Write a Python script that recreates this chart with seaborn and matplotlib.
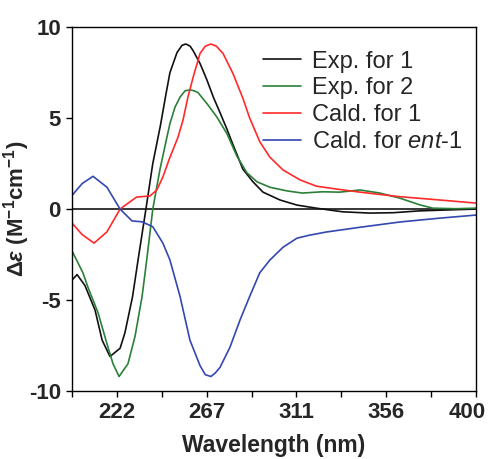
import numpy as np
import pandas as pd
import seaborn as sns
import matplotlib
matplotlib.use('Agg')
import matplotlib.pyplot as plt
from matplotlib.transforms import ScaledTranslation

# values
wl_exp1 = [200, 202.5, 206.4, 211.4, 214.9, 218.8, 223.8, 226.2, 230, 232.7, 236.6, 240,
           243.8, 246.5, 248.5, 252, 254.5, 256.4, 258.5, 260, 263.4, 266.8, 270, 273.3,
           276.7, 279.5, 281.7, 284.6, 289.6, 294.6, 303, 311.4, 321, 334, 347.5, 359,
           372, 385.6, 400]
de_exp1 = [-3.9, -3.6, -4.2, -5.55, -7.2, -8.1, -7.65, -6.8, -4.8, -2.8, 0, 2.5,
           4.6, 6.3, 7.5, 8.6, 9.0, 9.07, 8.95, 8.7, 8.0, 7.1, 6.15, 5.3,
           4.4, 3.6, 3.0, 2.2, 1.5, 0.93, 0.5, 0.22, 0.05, -0.15, -0.22, -0.2,
           -0.1, -0.05, 0.0]

wl_exp2 = [200, 205.4, 207.9, 212.9, 217.3, 220.3, 223.3, 227.7, 231.2, 234.7, 237, 240,
           243.6, 247, 248.5, 251, 253.5, 256, 258.4, 260.5, 262.4, 266.8, 271.8, 276.7,
           281.7, 286.6, 291.6, 298, 306.4, 314, 324, 332.7, 342.6, 352.5, 362.4, 372.3,
           378.7, 390, 400]
de_exp2 = [-2.3, -3.5, -4.3, -5.7, -7.4, -8.5, -9.2, -8.5, -7.0, -4.8, -2.8, 0,
           2.2, 3.95, 4.7, 5.6, 6.15, 6.5, 6.55, 6.5, 6.4, 5.8, 5.05, 4.15,
           2.9, 2.0, 1.5, 1.2, 1.0, 0.88, 0.95, 0.93, 1.05, 0.88, 0.6, 0.23,
           0.05, 0.02, 0.05]

wl_cal1 = [200, 205, 210.9, 217.3, 223.8, 228.7, 232, 238.6, 242, 245, 248, 252.5, 255,
           257.4, 260, 263.4, 266, 268.8, 271.5, 274.8, 279.7, 284.6, 288, 293, 298,
           304.5, 313, 321, 331, 342.6, 362.4, 382, 400]
de_cal1 = [-0.77, -1.4, -1.87, -1.25, 0, 0.4, 0.66, 0.72, 1.05, 1.76, 2.7, 3.95, 4.9,
           6.15, 7.25, 8.55, 8.95, 9.07, 8.95, 8.55, 7.45, 6.1, 5.0, 3.7, 2.85,
           2.15, 1.6, 1.26, 1.1, 0.93, 0.68, 0.5, 0.33]

wl_ent1 = [200, 205, 210.4, 217.3, 223.8, 229.7, 234.7, 240, 245, 248.5, 253.5, 258.4,
           263.4, 266, 268.8, 271, 273.3, 278.2, 283.2, 288, 293, 298, 304.5, 311.4,
           317.8, 326, 342.6, 362.4, 382, 400]
de_ent1 = [0.75, 1.4, 1.8, 1.2, 0, -0.65, -0.7, -0.97, -1.87, -2.8, -4.8, -7.2,
           -8.6, -9.1, -9.2, -9.0, -8.7, -7.6, -6.1, -4.8, -3.5, -2.8, -2.1, -1.6,
           -1.43, -1.26, -1.0, -0.71, -0.5, -0.33]

labels = ['Exp. for 1', 'Exp. for 2', 'Cald. for 1', 'Cald. for $\\mathit{ent}$-1']
colors = ['#111111', '#2a8038', '#ff2a2a', '#3347b0']

xtick_major = [222.2, 266.7, 311.1, 355.6, 400]
xtick_labels = ['222', '267', '311', '356', '400']
xtick_minor = [200, 244.4, 288.9, 333.3, 377.8]
ytick_vals = [-10, -5, 0, 5, 10]

sns.set_style('ticks')
plt.rcParams['font.family'] = ['Liberation Sans', 'DejaVu Sans']
plt.rcParams['mathtext.fontset'] = 'custom'
plt.rcParams['mathtext.rm'] = 'Liberation Sans:bold'
plt.rcParams['mathtext.it'] = 'Liberation Sans:italic'
plt.rcParams['mathtext.bf'] = 'Liberation Sans:italic:bold'

fig = plt.figure(figsize=(4.9, 4.59), dpi=100)
ax = fig.add_axes([0.147, 0.148, 0.824, 0.793])

series = [(wl_exp1, de_exp1), (wl_exp2, de_exp2), (wl_cal1, de_cal1), (wl_ent1, de_ent1)]
for (x, y), lab, c in zip(series, labels, colors):
    df = pd.DataFrame({'wl': x, 'de': y})
    sns.lineplot(data=df, x='wl', y='de', color=c, lw=1.2, label=lab, ax=ax,
                 sort=False, estimator=None)

ax.axhline(0, color='black', lw=1.1, zorder=1)

ax.set_xlim(200, 400)
ax.set_ylim(-10, 10)
ax.set_xticks(xtick_major)
ax.set_xticklabels(xtick_labels)
ax.set_xticks(xtick_minor, minor=True)
ax.set_yticks(ytick_vals)
ax.set_yticklabels([str(v) for v in ytick_vals])
ax.tick_params(axis='both', which='both', direction='out', length=4, width=1,
               color='black', labelsize=16, pad=4)
for t in ax.get_xticklabels() + ax.get_yticklabels():
    t.set_fontweight('bold')
# keep the last label inside the figure
last = ax.get_xticklabels()[-1]
last.set_transform(last.get_transform() + ScaledTranslation(-6 / 72, 0, fig.dpi_scale_trans))

for s in ax.spines.values():
    s.set_color('black')
    s.set_linewidth(1)

ax.set_xlabel('Wavelength (nm)', fontsize=16.5, fontweight='bold', labelpad=8)
ax.set_ylabel('$\\Delta\\mathbf{\\varepsilon}$ (M$^{-1}$cm$^{-1}$)', fontsize=16,
              fontweight='bold')
ax.yaxis.set_label_coords(-0.1, 0.5)

ax.legend(loc='upper left', bbox_to_anchor=(0.415, 1.0), frameon=False, fontsize=17,
          handlelength=1.6, handletextpad=0.45, labelspacing=0.2, borderpad=0.5)

fig.savefig('out.png', dpi=100)
